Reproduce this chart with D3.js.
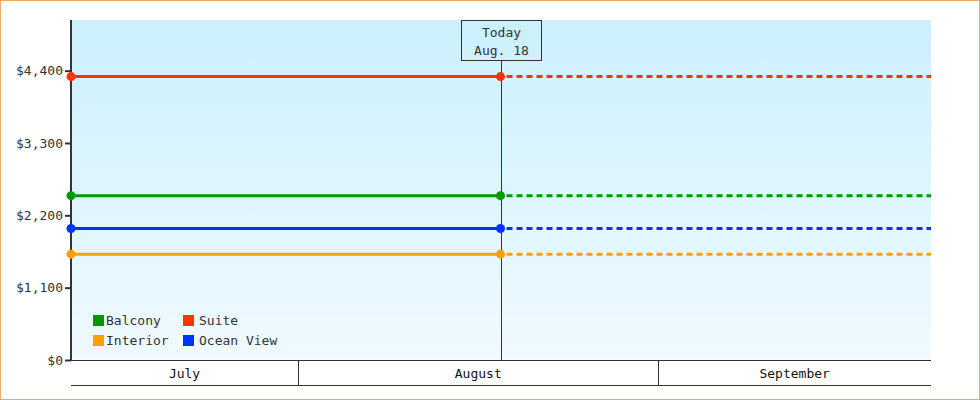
<!doctype html>
<html lang="en">
<head>
    <meta charset="UTF-8">
    <title>Cabin prices</title>
    <script src="https://d3js.org/d3.v7.min.js"></script>
    <style>
        body { margin: 0; }
        svg { display: block; font-family: "DejaVu Sans Mono", "Liberation Mono", monospace; }
        .tick text { font-size: 13px; fill: #333; }
    </style>
</head>
<body>
<div class="canvas"></div>
<script>
  // data
  const series = ['Balcony', 'Suite', 'Interior', 'Ocean View'];
  const colors = ['#009900', '#ff3300', '#ffa000', '#0033ff'];
  const prices = [2499, 4309, 1609, 1999];
  const yTicks = [0, 1100, 2200, 3300, 4400];
  const startDate = new Date(2023, 6, 12, 11);
  const endDate = new Date(2023, 8, 24, 11);
  const today = new Date(2023, 7, 18, 10);
  const todayLabel = ['Today', 'Aug. 18'];
  const months = [
    {name: 'July', from: new Date(2023, 6, 1), to: new Date(2023, 7, 1)},
    {name: 'August', from: new Date(2023, 7, 1), to: new Date(2023, 8, 1)},
    {name: 'September', from: new Date(2023, 8, 1), to: new Date(2023, 9, 1)}
  ];

  const W = 980, H = 400;
  const plotL = 71, plotR = 931, plotT = 20, plotB = 360;

  const svg = d3.select('.canvas')
    .append('svg')
    .attr('width', W)
    .attr('height', H);

  const defs = svg.append('defs');
  const grad = defs.append('linearGradient')
    .attr('id', 'bg').attr('x1', 0).attr('y1', 0).attr('x2', 0).attr('y2', 1);
  grad.append('stop').attr('offset', '0%').attr('stop-color', '#cbf0fd');
  grad.append('stop').attr('offset', '100%').attr('stop-color', '#f0faff');

  // outer frame
  svg.append('rect')
    .attr('x', 0.5).attr('y', 0.5)
    .attr('width', W - 1).attr('height', H - 1)
    .attr('fill', '#fff')
    .attr('stroke', '#e9aa66');

  const x = d3.scaleTime().domain([startDate, endDate]).range([plotL, plotR]);
  const y = d3.scaleLinear().domain([0, 5170]).range([plotB, plotT]);

  svg.append('rect')
    .attr('x', plotL).attr('y', plotT)
    .attr('width', plotR - plotL).attr('height', plotB - plotT)
    .attr('fill', 'url(#bg)');

  // y axis
  const yAxis = svg.append('g')
    .attr('transform', `translate(${plotL},0)`)
    .call(d3.axisLeft(y).tickValues(yTicks).tickSize(6).tickPadding(2)
      .tickFormat(d => '$' + d3.format(',')(d)));
  yAxis.attr('font-family', null).attr('font-size', null);
  yAxis.select('.domain').remove();
  yAxis.selectAll('.tick line').attr('stroke', '#333').attr('stroke-width', 2);
  yAxis.selectAll('.tick text').attr('font-size', '13.3px');

  svg.append('line')
    .attr('x1', plotL).attr('x2', plotL)
    .attr('y1', plotT).attr('y2', plotB)
    .attr('stroke', '#333').attr('stroke-width', 2);

  // month band
  const band = svg.append('g');
  band.append('line')
    .attr('x1', plotL).attr('x2', plotR).attr('y1', plotB + 0.5).attr('y2', plotB + 0.5)
    .attr('stroke', '#333');
  band.append('line')
    .attr('x1', plotL).attr('x2', plotR).attr('y1', 385.5).attr('y2', 385.5)
    .attr('stroke', '#333');
  months.forEach(m => {
    const a = Math.max(plotL, x(m.from));
    const b = Math.min(plotR, x(m.to));
    if (x(m.to) < plotR) {
      band.append('line')
        .attr('x1', Math.round(b) + 0.5).attr('x2', Math.round(b) + 0.5)
        .attr('y1', plotB).attr('y2', 385)
        .attr('stroke', '#333');
    }
    band.append('text')
      .attr('x', (a + b) / 2).attr('y', 378)
      .attr('text-anchor', 'middle')
      .attr('font-size', '13px')
      .attr('fill', '#111')
      .text(m.name);
  });

  // today marker
  const tx = Math.round(x(today)) + 0.5;
  svg.append('line')
    .attr('x1', tx).attr('x2', tx)
    .attr('y1', 60).attr('y2', plotB)
    .attr('stroke', '#333');
  svg.append('rect')
    .attr('x', tx - 40).attr('y', 20.5)
    .attr('width', 80).attr('height', 40)
    .attr('fill', 'none').attr('stroke', '#333');
  svg.append('text')
    .attr('x', tx).attr('y', 37)
    .attr('text-anchor', 'middle').attr('font-size', '13px').attr('fill', '#333')
    .text(todayLabel[0]);
  svg.append('text')
    .attr('x', tx).attr('y', 55)
    .attr('text-anchor', 'middle').attr('font-size', '13px').attr('fill', '#333')
    .text(todayLabel[1]);

  // series lines
  const g = svg.append('g');
  series.forEach((s, i) => {
    const py = y(prices[i]);
    g.append('line')
      .attr('x1', x(startDate)).attr('x2', x(today))
      .attr('y1', py).attr('y2', py)
      .attr('stroke', colors[i]).attr('stroke-width', 3);
    g.append('line')
      .attr('x1', x(today) + 6).attr('x2', x(endDate))
      .attr('y1', py).attr('y2', py)
      .attr('stroke', colors[i]).attr('stroke-width', 3)
      .attr('stroke-dasharray', '6,4');
    [startDate, today].forEach(d => {
      g.append('circle')
        .attr('cx', x(d)).attr('cy', py).attr('r', 4.5)
        .attr('fill', colors[i]);
    });
  });

  // legend
  const legend = svg.append('g');
  series.forEach((s, i) => {
    const col = i % 2;
    const lx = 93 + col * 90;
    const ly = 315 + Math.floor(i / 2) * 20;
    legend.append('rect')
      .attr('x', lx).attr('y', ly)
      .attr('width', 11).attr('height', 11)
      .attr('fill', colors[i]);
    legend.append('text')
      .attr('x', lx + (col ? 16 : 13)).attr('y', ly + 10)
      .attr('font-size', '13px').attr('fill', '#333')
      .text(s);
  });
</script>
</body>
</html>
